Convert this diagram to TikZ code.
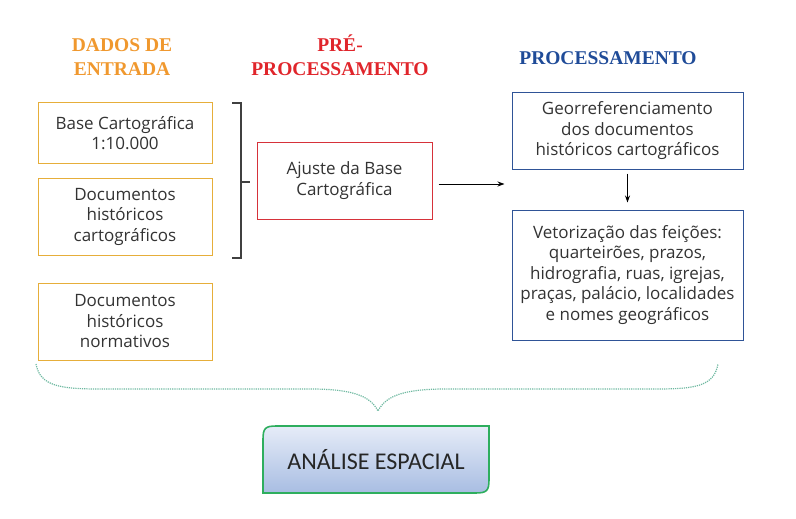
\documentclass[tikz,border=0pt]{standalone}
\usepackage{fontspec}
\setmainfont{Open Sans}
\newfontfamily\titlefont{Liberation Serif}
\newfontfamily\bottomfont{Carlito}
\usetikzlibrary{arrows.meta}
\definecolor{orangeT}{HTML}{F0982E}
\definecolor{redT}{HTML}{E0252B}
\definecolor{blueT}{HTML}{1F4B98}
\definecolor{orangeB}{HTML}{E6AE3A}
\definecolor{redB}{HTML}{D6323A}
\definecolor{blueB}{HTML}{2F5497}
\definecolor{greenB}{HTML}{2EAE5E}
\definecolor{braceC}{HTML}{6DB8A0}
\definecolor{textC}{HTML}{333333}
\definecolor{shadeTop}{HTML}{E6ECF8}
\definecolor{shadeBot}{HTML}{A8BDE2}
\tikzset{
  ttl/.style={font=\titlefont\bfseries\fontsize{19.5}{24}\selectfont, align=center},
  boxbase/.style={draw, line width=1pt, align=center, text=textC,
    font=\fontsize{17}{20.5}\selectfont, inner sep=2pt},
  obox/.style={boxbase, draw=orangeB, minimum width=174pt},
  rbox/.style={boxbase, draw=redB, minimum width=175pt, minimum height=77pt},
  bbox/.style={boxbase, draw=blueB, minimum width=231pt},
  arr/.style={-{Stealth[length=7pt,width=5pt]}, line width=0.9pt, black},
  brk/.style={line width=1.1pt, black!75},
  brc/.style={braceC, line width=1.2pt, densely dotted},
}
\begin{document}
\begin{tikzpicture}[x=1pt,y=-1pt]
\useasboundingbox (0,0) rectangle (796,519);
% titles
\node[ttl, text=orangeT] (t1) at (122,57) {DADOS DE\\ENTRADA};
\node[ttl, text=redT] (t2) at (340,55) {PRÉ-\\PROCESSAMENTO};
\node[ttl, text=blueT] (t3) at (608,58) {PROCESSAMENTO};
% input boxes
\node[obox, minimum height=60pt] (b1) at (125,133) {Base Cartográfica\\1:10.000};
\node[obox, minimum height=77pt] (b2) at (125,216.5) {Documentos\\históricos\\cartográficos};
\node[obox, minimum height=77pt] (b3) at (125,321.5) {Documentos\\históricos\\normativos};
% bracket
\coordinate (k1) at (232,103);
\coordinate (k2) at (241,103);
\coordinate (k3) at (241,258);
\coordinate (k4) at (232,258);
\coordinate (km) at (241,182);
\coordinate (kt) at (250,182);
\draw[brk] (k1) -- (k2) -- (k3) -- (k4);
\draw[brk] (km) -- (kt);
% pre-processing
\node[rbox] (r1) at (344.5,180.5) {Ajuste da Base\\Cartográfica};
% processing
\node[bbox, minimum height=76pt] (p1) at (627.5,131) {Georreferenciamento\\dos documentos\\históricos cartográficos};
\node[bbox, minimum height=130pt] (p2) at (627.5,275) {Vetorização das feições:\\quarteirões, prazos,\\hidrografia, ruas, igrejas,\\praças, palácio, localidades\\e nomes geográficos};
\coordinate (a1) at ([xshift=6pt,yshift=-3.5pt]r1.east);
\coordinate (a2) at ([xshift=-7pt,yshift=-3.5pt]r1.east -| p1.west);
\draw[arr] (a1) -- (a2);
\draw[arr, shorten <=4pt, shorten >=7pt] (p1.south) -- (p2.north);
% brace
\coordinate (bl) at (36,364);
\coordinate (br) at (718,364);
\coordinate (bt) at (378,411);
\draw[brc] (bl) .. controls (40,386) and (60,389) .. (100,389)
  -- (310,389) .. controls (350,389) and (370,395) .. (bt)
  .. controls (386,395) and (406,389) .. (446,389)
  -- (656,389) .. controls (696,389) and (714,386) .. (br);
% final box
\shade[top color=shadeTop, bottom color=shadeBot, draw=greenB, line width=1.6pt]
  (263,493) -- (263,440) .. controls (263,428) and (265,426) .. (277,426)
  -- (489,426) -- (489,479) .. controls (489,491) and (487,493) .. (475,493)
  -- cycle;
\node[font=\bottomfont\fontsize{24}{26}\selectfont, text=black!85] (an) at (376,460) {ANÁLISE ESPACIAL};
\end{tikzpicture}
\end{document}
